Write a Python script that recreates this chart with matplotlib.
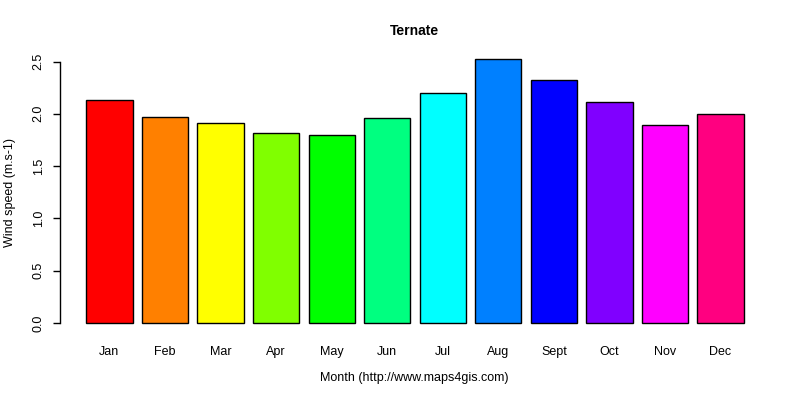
import numpy as np
import matplotlib.pyplot as plt

plt.rcParams['font.family'] = ['Liberation Sans', 'DejaVu Sans']

# donnees
months = ["Jan", "Feb", "Mar", "Apr", "May", "Jun",
          "Jul", "Aug", "Sept", "Oct", "Nov", "Dec"]
wind = [2.13, 1.97, 1.91, 1.82, 1.80, 1.96,
        2.20, 2.52, 2.32, 2.11, 1.89, 2.00]
colors = ["#FF0000", "#FF8000", "#FFFF00", "#80FF00", "#00FF00", "#00FF80",
          "#00FFFF", "#0080FF", "#0000FF", "#8000FF", "#FF00FF", "#FF0080"]

# barplot facon R : largeur 1, espace 0.2
x = 0.7 + 1.2 * np.arange(len(months))

fig = plt.figure(figsize=(8, 4), dpi=100)
ax = fig.add_axes([60/800, (400-333.8)/400, 710/800, (333.8-48.5)/400])

ax.bar(x, wind, width=1.0, color=colors, edgecolor="black", linewidth=1.0)

ax.set_xlim(0.2 - 0.568, 14.4 + 0.568)
ax.set_ylim(-0.1048, 2.6248)

for s in ["top", "right", "bottom"]:
    ax.spines[s].set_visible(False)
ax.spines["left"].set_bounds(0, 2.5)
ax.spines["left"].set_linewidth(1.0)

ax.set_yticks([0, 0.5, 1.0, 1.5, 2.0, 2.5])
ax.set_yticklabels(["0.0", "0.5", "1.0", "1.5", "2.0", "2.5"],
                   rotation=90, va="center", fontsize=9)
ax.tick_params(axis="y", length=5, width=1.0, pad=6)

ax.set_xticks(x)
ax.set_xticklabels(months, fontsize=9)
ax.tick_params(axis="x", length=0, pad=9)

fig.text(414/800, 1 - 31/400, "Ternate", ha="center", va="center",
         fontsize=10, fontweight="bold")
fig.text(414/800, 1 - 378/400, "Month (http://www.maps4gis.com)",
         ha="center", va="center", fontsize=9)
fig.text(10/800, 1 - 193/400, "Wind speed (m.s-1)", rotation=90,
         ha="center", va="center", fontsize=9)

plt.savefig("out.png", dpi=100)
